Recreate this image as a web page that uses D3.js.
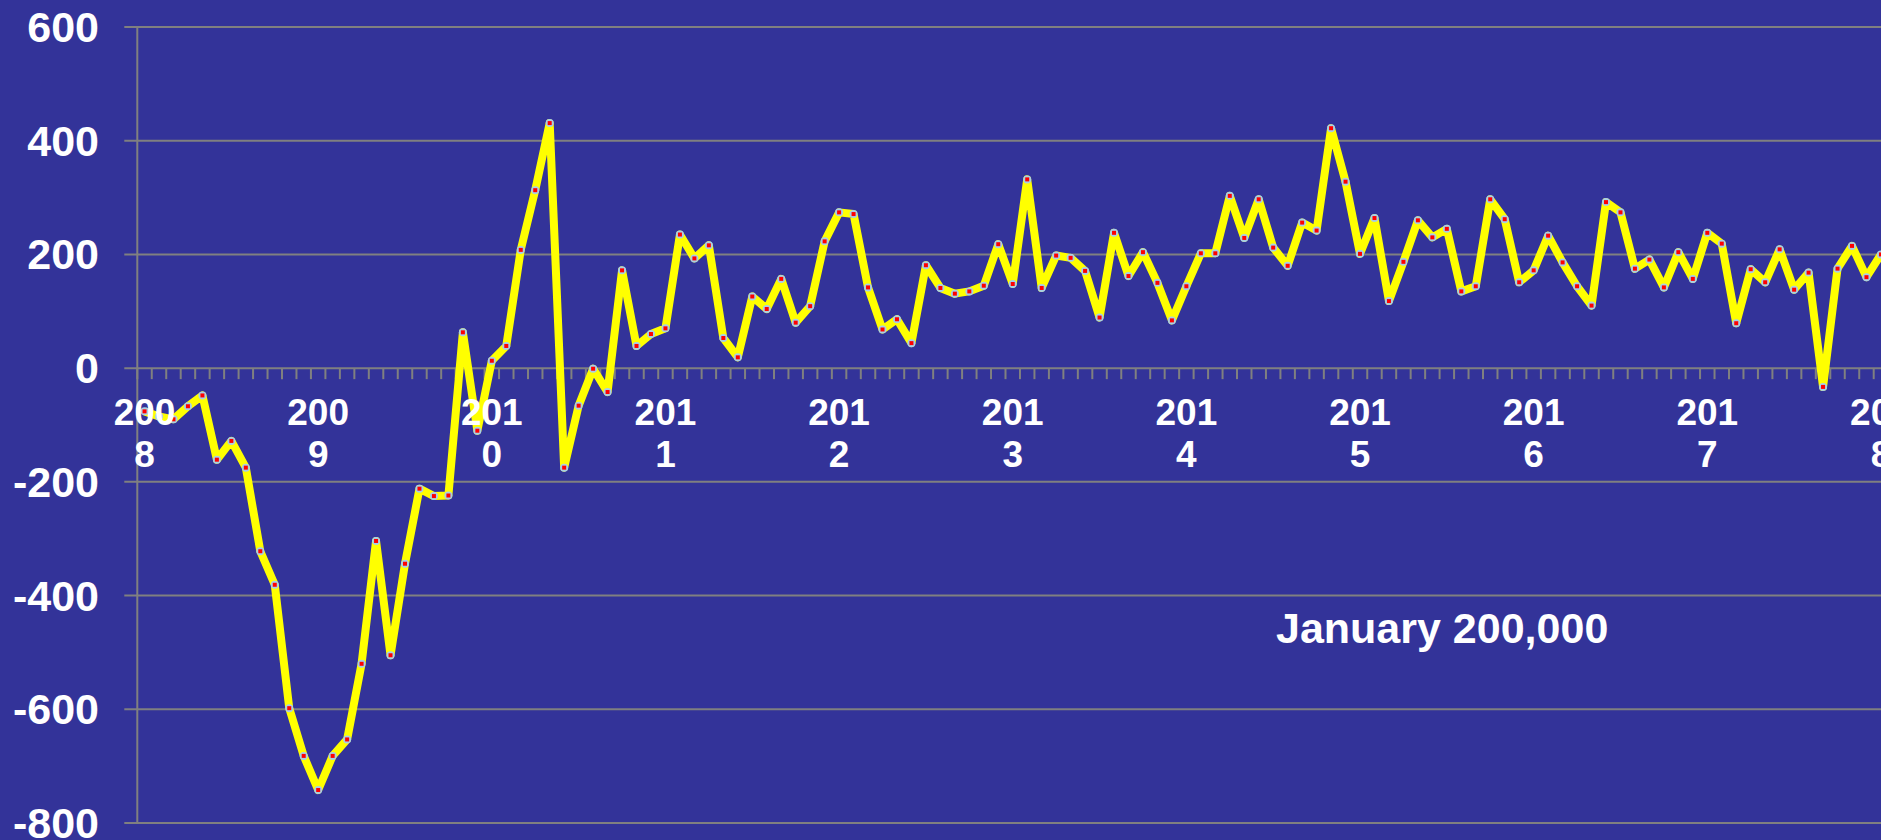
<!DOCTYPE html>
<html>
<head>
<meta charset="utf-8">
<script src="https://cdn.jsdelivr.net/npm/d3@7"></script>
<style>
  body { margin: 0; background: #333399; overflow: hidden; }
  svg text { font-family: "Liberation Sans", Arial, sans-serif; font-weight: bold; fill: #fff; }
</style>
</head>
<body>
<div id="chart"></div>
<script>
// monthly change, thousands, Jan 2008 .. Jan 2018
var jobs2008 = [-76, -85, -90, -67, -48, -161, -128, -175, -322, -381, -598, -682];
var jobs2009 = [-742, -682, -653, -520, -304, -505, -344, -212, -225, -224, 63, -110];
var jobs2010 = [13, 39, 208, 313, 431, -175, -66, -1, -42, 172, 39, 60];
var jobs2011 = [70, 235, 193, 216, 53, 19, 126, 104, 157, 80, 109, 223];
var jobs2012 = [274, 271, 142, 68, 86, 44, 181, 141, 131, 135, 145, 218];
var jobs2013 = [148, 332, 141, 198, 194, 171, 89, 238, 162, 204, 150, 84];
var jobs2014 = [144, 202, 202, 303, 229, 297, 212, 180, 256, 242, 422, 328];
var jobs2015 = [201, 264, 118, 187, 260, 230, 245, 135, 144, 297, 262, 151];
var jobs2016 = [172, 233, 186, 144, 110, 292, 274, 175, 191, 142, 204, 157];
var jobs2017 = [238, 219, 79, 174, 151, 209, 138, 168, -33, 175, 215, 160];
var jobs2018 = [200];

var years = ["2008", "2009", "2010", "2011", "2012", "2013", "2014", "2015", "2016", "2017", "2018"];
var yTicks = [600, 400, 200, 0, -200, -400, -600, -800];
var note = "January 200,000";

var values = [].concat(jobs2008, jobs2009, jobs2010, jobs2011, jobs2012, jobs2013,
	jobs2014, jobs2015, jobs2016, jobs2017, jobs2018);
var months = values.map(function(d, i) { return i; });

var W = 1881, H = 840;
var axisX0 = 137.3, step = 14.47;

var svg = d3.select("#chart").append("svg")
	.attr("width", W)
	.attr("height", H);

svg.append("rect").attr("width", W).attr("height", H).style("fill", "#333399");

var scaleX = d3.scaleBand()
	.domain(months)
	.range([axisX0, axisX0 + step * months.length])
	.padding(0);

var scaleY = d3.scaleLinear()
	.domain([-800, 600])
	.range([823, 27]);

var cx = function(i) { return scaleX(i) + scaleX.bandwidth() / 2; };

// ** ------- GRID + AXES ------- **
var grid = svg.append("g").attr("class", "grid");
grid.selectAll("line").data(yTicks).enter().append("line")
	.attr("x1", axisX0 - 13)
	.attr("x2", W)
	.attr("y1", function(d) { return scaleY(d); })
	.attr("y2", function(d) { return scaleY(d); })
	.style("stroke", "#808080")
	.style("stroke-width", 2);

svg.append("line")
	.attr("x1", axisX0).attr("x2", axisX0)
	.attr("y1", scaleY(600)).attr("y2", scaleY(-800))
	.style("stroke", "#808080")
	.style("stroke-width", 2);

// month ticks hang below the zero line, between categories
svg.append("g").attr("class", "month-ticks")
	.selectAll("line").data(months.concat([months.length])).enter().append("line")
	.attr("x1", function(d) { return axisX0 + d * scaleX.bandwidth(); })
	.attr("x2", function(d) { return axisX0 + d * scaleX.bandwidth(); })
	.attr("y1", scaleY(0))
	.attr("y2", scaleY(0) + 11)
	.style("stroke", "#808080")
	.style("stroke-width", 2);

// ** ------- SERIES ------- **
var line = d3.line()
	.x(function(d, i) { return cx(i); })
	.y(function(d) { return scaleY(d); });

svg.append("path")
	.datum(values)
	.attr("d", line)
	.style("fill", "none")
	.style("stroke", "#ffff00")
	.style("stroke-width", 8)
	.style("stroke-linejoin", "round");

var marks = svg.append("g").attr("class", "marks");
marks.selectAll("circle").data(values).enter().append("circle")
	.attr("cx", function(d, i) { return cx(i); })
	.attr("cy", function(d) { return scaleY(d); })
	.attr("r", 4)
	.style("fill", "#a9cfe6");
marks.selectAll("rect").data(values).enter().append("rect")
	.attr("x", function(d, i) { return cx(i) - 2; })
	.attr("y", function(d) { return scaleY(d) - 2; })
	.attr("width", 4)
	.attr("height", 4)
	.style("fill", "#ff0000");

// ** ------- LABELS ------- **
svg.append("g").attr("class", "y-labels")
	.selectAll("text").data(yTicks).enter().append("text")
	.attr("x", 99)
	.attr("y", function(d) { return scaleY(d) + 15; })
	.attr("text-anchor", "end")
	.style("font-size", "43px")
	.text(function(d) { return d; });

var xl = svg.append("g").attr("class", "x-labels")
	.selectAll("text").data(years).enter().append("text")
	.attr("text-anchor", "middle")
	.style("font-size", "37px");
xl.append("tspan")
	.attr("x", function(d, i) { return cx(i * 12); })
	.attr("y", scaleY(0) + 57)
	.text(function(d) { return d.slice(0, 3); });
xl.append("tspan")
	.attr("x", function(d, i) { return cx(i * 12); })
	.attr("y", scaleY(0) + 99)
	.text(function(d) { return d.slice(3); });

svg.append("text")
	.attr("x", 1276)
	.attr("y", 643)
	.style("font-size", "43px")
	.text(note);
</script>
</body>
</html>
